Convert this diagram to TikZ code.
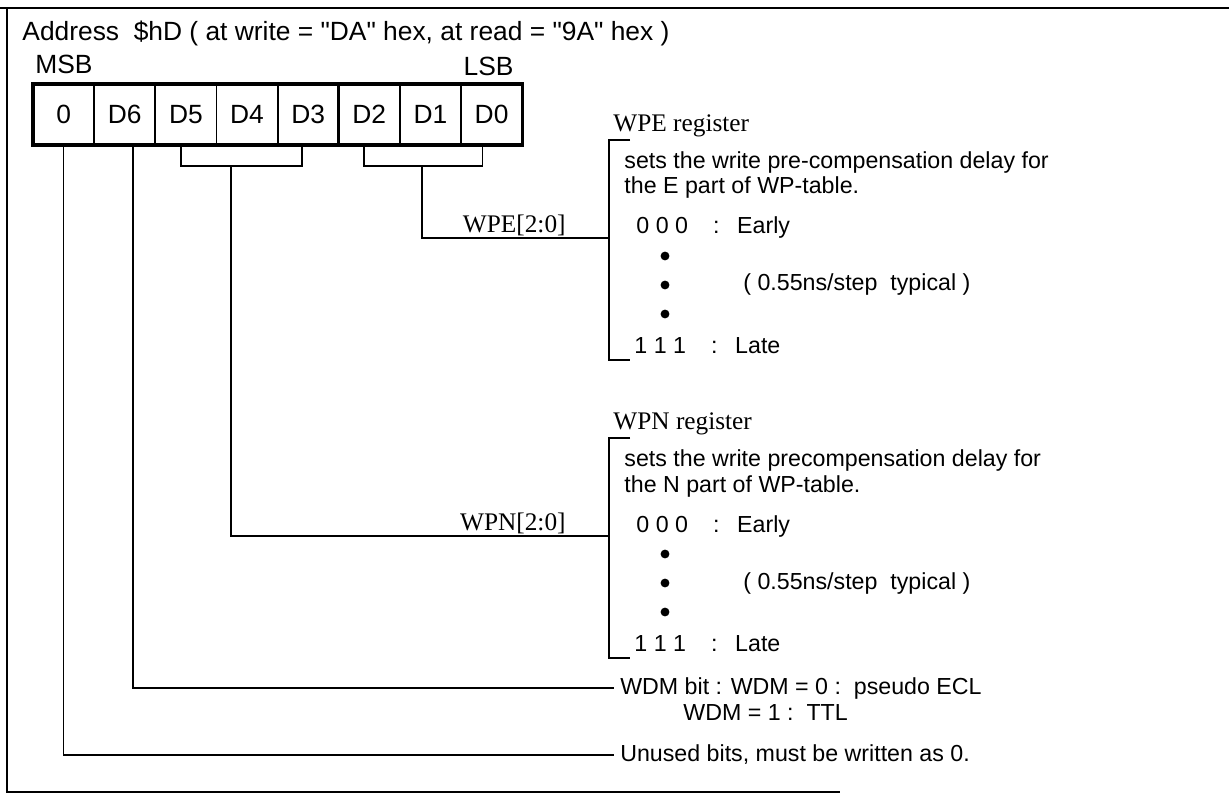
\documentclass[tikz,border=0pt]{standalone}
\usepackage{fontspec}
\newfontfamily\helv{Liberation Sans}
\newfontfamily\tms{Liberation Serif}
\usepackage{tikz}
\usetikzlibrary{positioning,calc}

\begin{document}
\begin{tikzpicture}[
    x=0.016667cm, y=-0.016667cm,
    bitcell/.style={draw, line width=0.9pt, outer sep=0pt, inner sep=0pt, minimum width=1.01875cm, minimum height=1.0167cm, font=\fontsize{12.5}{15}\helv},
    head/.style={anchor=west, inner sep=0pt, font=\fontsize{12.5}{15}\helv},
    desc/.style={anchor=west, inner sep=0pt, font=\fontsize{11}{13}\helv},
    regname/.style={anchor=west, inner sep=0pt, font=\fontsize{12}{14}\tms},
    wire/.style={line width=0.8pt},
    bullet/.style={circle, fill, inner sep=0pt, minimum size=4.2pt}
]
    \useasboundingbox (0,0) rectangle (1229,799);
    \draw[wire] (0,8) -- (1229,8);
    \draw[wire] (7,8) -- (7,792) -- (840,792);

    \node[head] (title) at (22,33) {Address\ \ \$hD ( at write = "DA" hex, at read = "9A" hex )};
    \node[head] (msb) at (35,64) {MSB};
    \node[head, anchor=east] (lsb) at (514,66) {LSB};

    \node[bitcell] (b7) at (63.6,114.5) {0};
    \node[bitcell, right=0pt of b7] (b6) {D6};
    \node[bitcell, right=0pt of b6] (b5) {D5};
    \node[bitcell, right=0pt of b5] (b4) {D4};
    \node[bitcell, right=0pt of b4] (b3) {D3};
    \node[bitcell, right=0pt of b3] (b2) {D2};
    \node[bitcell, right=0pt of b2] (b1) {D1};
    \node[bitcell, right=0pt of b1] (b0) {D0};
    \draw[line width=1.5pt] (b7.north west) rectangle (b0.south east);
    \draw[line width=1.3pt] (b3.north east) -- (b3.south east);

    \coordinate (highstem) at (231,166);
    \coordinate (lowstem) at (422,166);
    \draw[wire] ($(b5.south)+(-5,0)$) -- ++(0,21) -| ($(b3.south)+(-6,0)$);
    \draw[wire] ($(b2.south)+(-5,0)$) -- ++(0,21) -| ($(b0.south)+(-9,0)$);

    \coordinate (wpetop) at (609,140);
    \coordinate (wpein) at (609,238);
    \coordinate (wpebot) at (609,360);
    \node[regname] (wpehead) at (613,126) {WPE register};
    \node[desc] (wpeline1) at (624,163) {sets the write pre-compensation delay for};
    \node[desc] (wpeline2) at (624,188) {the E part of WP-table.};
    \node[desc] (wpeearly) at (636,228) {\makebox[1.28cm][l]{0 0 0}\makebox[0.4cm][l]{:}Early};
    \node[bullet] (wpedot1) at (665,256) {};
    \node[bullet] (wpedot2) at (665,285) {};
    \node[bullet] (wpedot3) at (665,314) {};
    \node[desc] (wpestep) at (743,285) {( 0.55ns/step\ \ typical )};
    \node[desc] (wpelate) at (634,346) {\makebox[1.28cm][l]{1 1 1}\makebox[0.4cm][l]{:}Late};
    \draw[wire] ($(wpetop)+(21,0)$) -- (wpetop) -- (wpebot) -- ++(21,0);
    \node[regname, anchor=south east] (wpefield) at ($(wpein)+(-43,-2)$) {WPE[2:0]};
    \draw[wire] (lowstem) |- (wpein);

    \coordinate (wpntop) at (609,438);
    \coordinate (wpnin) at (609,536);
    \coordinate (wpnbot) at (609,658);
    \node[regname] (wpnhead) at (613,424) {WPN register};
    \node[desc] (wpnline1) at (624,461) {sets the write precompensation delay for};
    \node[desc] (wpnline2) at (624,486) {the N part of WP-table.};
    \node[desc] (wpnearly) at (636,526) {\makebox[1.28cm][l]{0 0 0}\makebox[0.4cm][l]{:}Early};
    \node[bullet] (wpndot1) at (665,554) {};
    \node[bullet] (wpndot2) at (665,583) {};
    \node[bullet] (wpndot3) at (665,612) {};
    \node[desc] (wpnstep) at (743,583) {( 0.55ns/step\ \ typical )};
    \node[desc] (wpnlate) at (634,644) {\makebox[1.28cm][l]{1 1 1}\makebox[0.4cm][l]{:}Late};
    \draw[wire] ($(wpntop)+(21,0)$) -- (wpntop) -- (wpnbot) -- ++(21,0);
    \node[regname, anchor=south east] (wpnfield) at ($(wpnin)+(-43,-2)$) {WPN[2:0]};
    \draw[wire] (highstem) |- (wpnin);

    \node[desc, outer xsep=3pt] (wdm0) at (614,688) {WDM bit : WDM = 0 :\ \ pseudo ECL};
    \node[desc] (wdm1) at (683,713) {WDM = 1 :\ \ TTL};
    \node[desc, outer xsep=3pt] (unused) at (614,755) {Unused bits, must be written as 0.};
    \draw[wire] ($(b6.south)+(8,0)$) |- (wdm0.west);
    \draw[wire] (b7.south) |- (unused.west);
\end{tikzpicture}
\end{document}
